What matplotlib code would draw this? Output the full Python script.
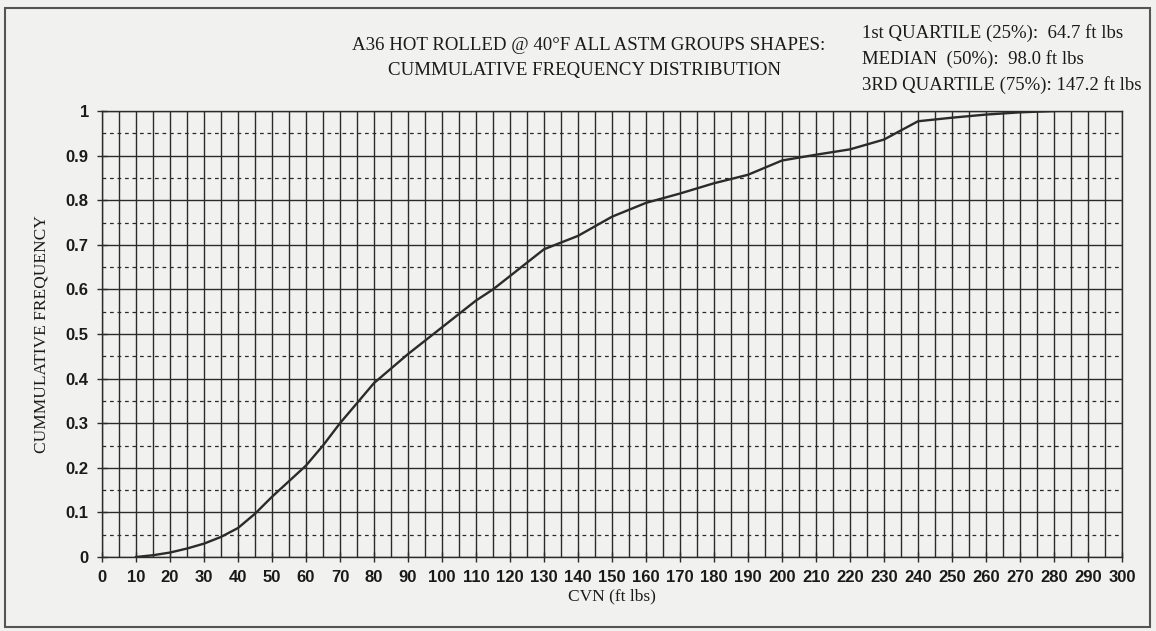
import matplotlib
matplotlib.use('Agg')
import matplotlib.pyplot as plt
from matplotlib.patches import Rectangle
from matplotlib.ticker import MultipleLocator

# CVN values (ft lbs) and cumulative frequency
cvn = [10, 15, 20, 25, 30, 35, 40, 45, 50, 55, 60, 65, 70, 75, 80, 90, 100,
       110, 115, 120, 130, 140, 150, 160, 170, 180, 190, 200, 210, 220, 230,
       240, 250, 260, 270, 280]
cum_freq = [0.0, 0.004, 0.01, 0.019, 0.03, 0.045, 0.065, 0.097, 0.135, 0.17,
            0.205, 0.25, 0.30, 0.345, 0.39, 0.455, 0.515, 0.575, 0.60, 0.63,
            0.69, 0.72, 0.763, 0.794, 0.815, 0.838, 0.857, 0.889, 0.902,
            0.914, 0.936, 0.977, 0.985, 0.992, 0.997, 1.0]

title_lines = ["A36 HOT ROLLED @ 40°F ALL ASTM GROUPS SHAPES:",
               "CUMMULATIVE FREQUENCY DISTRIBUTION"]
quartile_lines = ["1st QUARTILE (25%):  64.7 ft lbs",
                  "MEDIAN  (50%):  98.0 ft lbs",
                  "3RD QUARTILE (75%): 147.2 ft lbs"]

W, H = 1156, 631
bg = '#f1f1ef'
ink = '#2b2b2b'
txt = '#1a1a1a'
serif = ['Liberation Serif', 'DejaVu Serif']
narrow = ['Liberation Sans Narrow', 'Liberation Sans', 'DejaVu Sans']

fig = plt.figure(figsize=(W / 100, H / 100), dpi=100, facecolor=bg)

# plot area in pixels: left 102, right 1122, top 111, bottom 557
ax = fig.add_axes([102 / W, 1 - 557 / H, (1122 - 102) / W, (557 - 111) / H])
ax.set_facecolor(bg)

ax.plot(cvn, cum_freq, color=ink, lw=1.7, zorder=3)

ax.set_xlim(0, 300)
ax.set_ylim(0, 1)
ax.xaxis.set_major_locator(MultipleLocator(10))
ax.xaxis.set_minor_locator(MultipleLocator(5))
ax.yaxis.set_minor_locator(MultipleLocator(0.05))
ax.set_yticks([i / 10 for i in range(11)])
ax.set_yticklabels(['0'] + ['0.%d' % i for i in range(1, 10)] + ['1'])

ax.grid(which='major', axis='both', color=ink, lw=1.0, ls='-')
ax.grid(which='minor', axis='x', color=ink, lw=1.0, ls='-')
ax.grid(which='minor', axis='y', color=ink, lw=0.9, ls=(0, (3, 3)))

for s in ax.spines.values():
    s.set_color(ink)
    s.set_linewidth(1.0)

ax.tick_params(which='major', direction='inout', length=7, width=1.0,
               color=ink, labelcolor=txt, pad=6)
ax.tick_params(which='minor', length=0)
for lab in ax.get_xticklabels() + ax.get_yticklabels():
    lab.set_family(narrow)
    lab.set_fontsize(12)
    lab.set_fontweight('bold')

ax.set_xlabel('CVN (ft lbs)', family=serif, fontsize=12.5, color=txt,
              labelpad=2)
ax.set_ylabel('CUMMULATIVE FREQUENCY', family=serif, fontsize=12.5,
              color=txt, labelpad=12)

# titles
fig.text(589 / W, 1 - 45 / H, title_lines[0], family=serif, fontsize=13.6,
         color=txt, ha='center', va='center')
fig.text(585 / W, 1 - 70 / H, title_lines[1], family=serif, fontsize=13.6,
         color=txt, ha='center', va='center')

# quartile notes
for i, line in enumerate(quartile_lines):
    fig.text(862 / W, 1 - (33 + 26 * i) / H, line, family=serif, fontsize=13.5,
             color=txt, ha='left', va='center')

# outer frame
fig.add_artist(Rectangle((5 / W, 1 - 627 / H), (1150 - 5) / W, (627 - 8) / H,
                         transform=fig.transFigure, fill=False,
                         edgecolor='#555555', lw=1.5))

fig.savefig('out.png', dpi=100, facecolor=bg)
